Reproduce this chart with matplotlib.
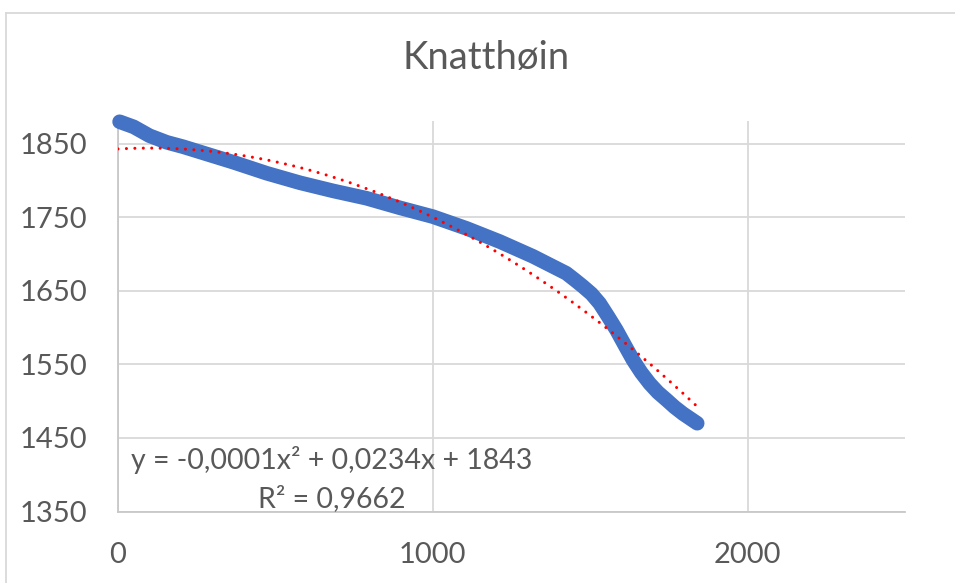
import matplotlib
matplotlib.use("Agg")
import matplotlib.pyplot as plt
import numpy as np
from matplotlib.lines import Line2D

plt.rcParams["font.family"] = ["Lato", "DejaVu Sans"]

# values (distance, elevation)
dist = [5, 50, 100, 155, 207, 260, 366, 472, 578, 683, 789, 895, 1000,
        1107, 1213, 1318, 1424, 1451, 1477, 1504, 1530, 1557, 1583, 1610,
        1636, 1662, 1689, 1715, 1742, 1768, 1795, 1840]
elev = [1880, 1873, 1861, 1852, 1846, 1839, 1825, 1810, 1797, 1786, 1776, 1763, 1751,
        1735, 1717, 1697, 1674, 1665, 1656, 1646, 1633, 1615, 1597, 1576,
        1556, 1539, 1524, 1512, 1502, 1492, 1483, 1470]
# order-2 trendline coefficients (a, b, c) as drawn in the reference
trend_coef = [-0.0001162, 0.0234, 1843]
y_ticks = [1350, 1450, 1550, 1650, 1750, 1850]
x_ticks = [0, 1000, 2000]
title = "Knatthøin"
eq_line1 = "y = -0,0001x² + 0,0234x + 1843"
eq_line2 = "R² = 0,9662"

blue = "#4472C4"
grey_txt = "#595959"
grid_c = "#d9d9d9"

fig = plt.figure(figsize=(9.55, 5.83), dpi=100)
ax = fig.add_axes([118 / 955, 1 - 511.5 / 583, (905 - 118) / 955, (511.5 - 121) / 583])

# thick line with round caps mimics the dense marker series
ax.plot(dist, elev, color=blue, lw=10.5, solid_capstyle="round",
        solid_joinstyle="round", zorder=3, clip_on=False)

xs = np.linspace(0, max(dist), 300)
ax.plot(xs, np.polyval(trend_coef, xs), color="#ff0000", lw=2.2,
        linestyle=(0, (0.01, 2.75)), dash_capstyle="round", zorder=4)

ax.set_xlim(0, 2500)
ax.set_ylim(1350, 1881)
ax.set_xticks(x_ticks)
ax.set_yticks(y_ticks)
ax.grid(True, color=grid_c, lw=1.3)
ax.set_axisbelow(True)
for side in ["top", "right"]:
    ax.spines[side].set_visible(False)
for side in ["left", "bottom"]:
    ax.spines[side].set_color("#c8c8c8")
    ax.spines[side].set_linewidth(1.3)
ax.tick_params(length=0, labelsize=21, labelcolor=grey_txt)
ax.tick_params(axis="y", pad=22)
ax.tick_params(axis="x", pad=22)

ax.text(679, 1420, eq_line1, ha="center", va="center", fontsize=20.5, color=grey_txt)
ax.text(679, 1368, eq_line2, ha="center", va="center", fontsize=20.5, color=grey_txt)

fig.text(486 / 955, 1 - 58 / 583, title, ha="center", va="center",
         fontsize=27.5, color=grey_txt)

# chart border (only top and left edges fall inside the picture)
fig.add_artist(Line2D([6 / 955, 1], [1 - 12.5 / 583] * 2, color=grid_c, lw=1.3))
fig.add_artist(Line2D([6 / 955] * 2, [0, 1 - 12.5 / 583], color=grid_c, lw=1.3))

fig.savefig("out.png", dpi=100)
